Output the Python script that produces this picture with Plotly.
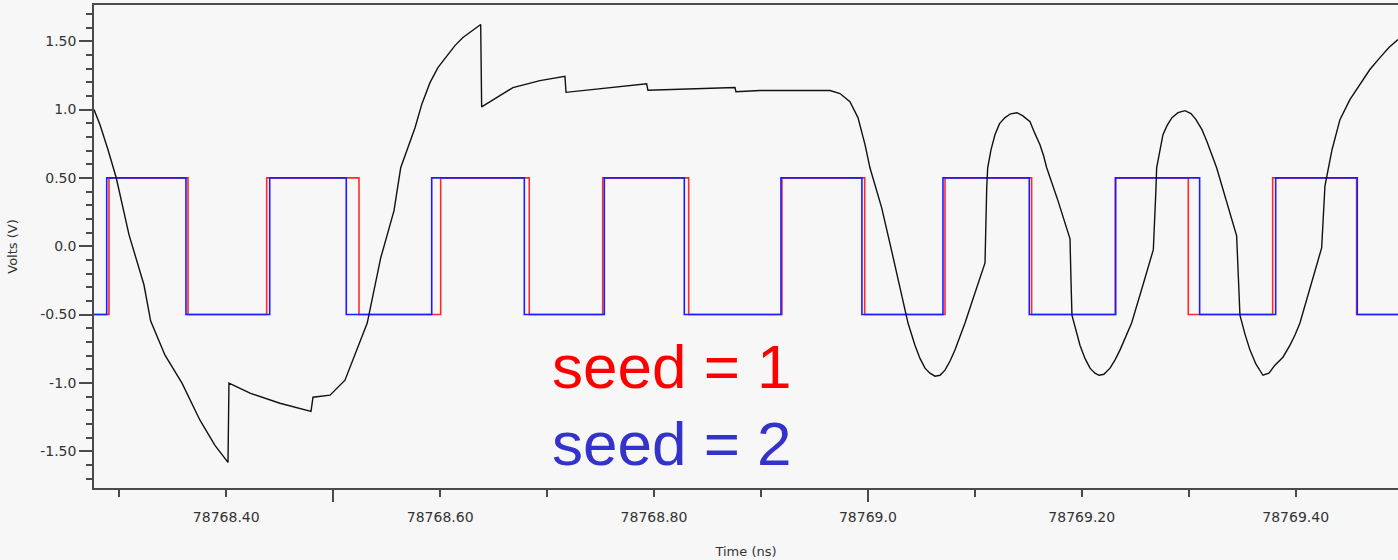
import plotly.graph_objects as go

# ---- square waves (transition times, ns); both start low (-0.5) ----
red_edges = [78768.2903, 78768.3642, 78768.4378, 78768.5241, 78768.6005, 78768.6833,
             78768.7520, 78768.8324, 78768.9196, 78768.9970, 78769.0721, 78769.1531,
             78769.2313, 78769.2996, 78769.3785, 78769.4570]
blue_edges = [78768.2882, 78768.3623, 78768.4406, 78768.5122, 78768.5921, 78768.6787,
              78768.7535, 78768.8283, 78768.9187, 78768.9944, 78769.0702, 78769.1509,
              78769.2317, 78769.3102, 78769.3813, 78769.4576]
low_level = -0.5
high_level = 0.5

# ---- analog waveform (black) ----
analog_t = [78768.2763, 78768.2819, 78768.2894, 78768.2971, 78768.3090, 78768.3230, 78768.3293,
            78768.3427, 78768.3586, 78768.3754, 78768.3894, 78768.4016, 78768.4025, 78768.4222,
            78768.4502, 78768.4792, 78768.4811, 78768.4970, 78768.5110, 78768.5204, 78768.5318,
            78768.5444, 78768.5568, 78768.5631, 78768.5699, 78768.5765, 78768.5830, 78768.5905,
            78768.5979, 78768.6061, 78768.6138, 78768.6213, 78768.6297, 78768.6379, 78768.6388,
            78768.6681, 78768.6933, 78768.7167, 78768.7177, 78768.7931, 78768.7943, 78768.8430,
            78768.8757, 78768.8766, 78768.8991, 78768.9365, 78768.9645, 78768.9739, 78768.9832,
            78768.9907, 78768.9973, 78769.0019, 78769.0129, 78769.0222, 78769.0375, 78769.0440,
            78769.0487, 78769.0534, 78769.0580, 78769.0627, 78769.0674, 78769.0721, 78769.0768,
            78769.0814, 78769.0861, 78769.0908, 78769.1001, 78769.1095, 78769.1111, 78769.1120,
            78769.1151, 78769.1188, 78769.1231, 78769.1282, 78769.1334, 78769.1394, 78769.1446,
            78769.1516, 78769.1558, 78769.1609, 78769.1643, 78769.1672, 78769.1778, 78769.1890,
            78769.1899, 78769.1908, 78769.1983, 78769.2030, 78769.2077, 78769.2123, 78769.2161,
            78769.2207, 78769.2264, 78769.2310, 78769.2357, 78769.2413, 78769.2466, 78769.2572,
            78769.2669, 78769.2694, 78769.2700, 78769.2759, 78769.2797, 78769.2843, 78769.2900,
            78769.2965, 78769.3021, 78769.3068, 78769.3124, 78769.3171, 78769.3217, 78769.3261,
            78769.3448, 78769.3479, 78769.3526, 78769.3573, 78769.3629, 78769.3694, 78769.3750,
            78769.3806, 78769.3881, 78769.3947, 78769.3994, 78769.4040, 78769.4243, 78769.4274,
            78769.4340, 78769.4414, 78769.4507, 78769.4601, 78769.4694, 78769.4788, 78769.4872,
            78769.4957]
analog_v = [1.000, 0.889, 0.706, 0.501, 0.085, -0.282, -0.548,
            -0.797, -1.002, -1.273, -1.457, -1.582, -1.002, -1.075,
            -1.149, -1.208, -1.105, -1.090, -0.980, -0.797, -0.562,
            -0.086, 0.259, 0.574, 0.721, 0.867, 1.043, 1.197,
            1.307, 1.390, 1.468, 1.527, 1.578, 1.622, 1.019,
            1.161, 1.212, 1.243, 1.126, 1.188, 1.141, 1.153,
            1.161, 1.131, 1.139, 1.139, 1.139, 1.117, 1.058,
            0.941, 0.743, 0.574, 0.281, -0.034, -0.562, -0.724,
            -0.821, -0.892, -0.929, -0.951, -0.944, -0.907, -0.840,
            -0.760, -0.665, -0.562, -0.342, -0.122, 0.427, 0.574,
            0.705, 0.816, 0.897, 0.941, 0.969, 0.977, 0.955,
            0.911, 0.831, 0.743, 0.662, 0.574, 0.332, 0.054,
            -0.247, -0.504, -0.724, -0.821, -0.892, -0.929, -0.944,
            -0.937, -0.892, -0.833, -0.760, -0.665, -0.562, -0.284,
            -0.025, 0.427, 0.574, 0.816, 0.882, 0.941, 0.977,
            0.992, 0.970, 0.926, 0.853, 0.765, 0.670, 0.574,
            0.076, -0.504, -0.643, -0.760, -0.863, -0.944, -0.929,
            -0.870, -0.812, -0.724, -0.650, -0.562, -0.012, 0.442,
            0.706, 0.926, 1.073, 1.183, 1.293, 1.380, 1.454,
            1.512]

x_range = [78768.2763, 78769.4957]
y_range = [-1.769, 1.765]
x_tickvals = [78768.4, 78768.6, 78768.8, 78769.0, 78769.2, 78769.4]
x_ticktext = ["78768.40", "78768.60", "78768.80", "78769.0", "78769.20", "78769.40"]
x_long_ticks = [78768.5, 78769.0]
y_tickvals = [-1.5, -1.0, -0.5, 0.0, 0.5, 1.0, 1.5]
y_ticktext = ["-1.50", "-1.0", "-0.50", "0.0", "0.50", "1.0", "1.50"]


def square(edges):
    xs = [x_range[0]]
    ys = [low_level]
    level = low_level
    for e in edges:
        xs += [e, e]
        ys += [level, high_level if level == low_level else low_level]
        level = ys[-1]
    xs.append(x_range[1])
    ys.append(level)
    return xs, ys


rx, ry = square(red_edges)
bx, by = square(blue_edges)

bg = "#f7f7f7"
axcol = "#4a4a4a"
tickfont = dict(family="DejaVu Sans", size=14, color="#333333")

fig = go.Figure()
fig.add_trace(go.Scatter(x=rx, y=ry, mode="lines", line=dict(color="#ff2a2a", width=1.6),
                         name="seed = 1", showlegend=False))
fig.add_trace(go.Scatter(x=bx, y=by, mode="lines", line=dict(color="#1c1cff", width=1.6),
                         name="seed = 2", showlegend=False, xaxis="x2"))
fig.add_trace(go.Scatter(x=analog_t, y=analog_v, mode="lines",
                         line=dict(color="#111111", width=1.4), showlegend=False, xaxis="x2"))

fig.update_layout(
    width=1398, height=560,
    margin=dict(l=94, r=0, t=5, b=72),
    paper_bgcolor=bg, plot_bgcolor=bg,
    xaxis=dict(range=x_range, tickmode="array", tickvals=x_tickvals, ticktext=x_ticktext,
               ticks="outside", ticklen=7, tickcolor=axcol, tickwidth=1.5,
               minor=dict(tickmode="linear", tick0=78768.4, dtick=0.1, ticks="outside",
                          ticklen=7, tickcolor=axcol, tickwidth=1.5, showgrid=False),
               showgrid=False, zeroline=False, showline=True, linecolor=axcol, linewidth=1.5,
               mirror=True, tickfont=tickfont, ticklabelstandoff=8,
               title=dict(text="Time (ns)", font=dict(family="DejaVu Sans", size=13, color="#333333"),
                          standoff=23)),
    xaxis2=dict(range=x_range, overlaying="x", anchor="y", side="bottom", matches="x",
                tickmode="array", tickvals=x_long_ticks, ticks="outside", ticklen=13,
                tickcolor=axcol, tickwidth=1.5, showticklabels=False, showgrid=False,
                zeroline=False, showline=False),
    yaxis=dict(range=y_range, tickmode="array", tickvals=y_tickvals, ticktext=y_ticktext,
               ticks="outside", ticklen=13, tickcolor=axcol, tickwidth=1.5,
               minor=dict(tickmode="linear", tick0=0, dtick=0.1, ticks="outside",
                          ticklen=6, tickcolor=axcol, tickwidth=1.5, showgrid=False),
               showgrid=False, zeroline=False, showline=True, linecolor=axcol, linewidth=1.5,
               tickfont=tickfont,
               title=dict(text="Volts (V)", font=dict(family="DejaVu Sans", size=13, color="#333333"),
                          standoff=20)),
    annotations=[
        dict(text="seed = 1", xref="paper", yref="paper", x=0.3497, y=0.2521,
             xanchor="left", yanchor="middle", showarrow=False,
             font=dict(family="Liberation Sans", size=62, color="#ff0000")),
        dict(text="seed = 2", xref="paper", yref="paper", x=0.3497, y=0.0926,
             xanchor="left", yanchor="middle", showarrow=False,
             font=dict(family="Liberation Sans", size=62, color="#3333cc")),
    ],
)

fig.write_html("out.html", config={"displayModeBar": False},
               post_script="document.body.style.margin='0';document.body.style.overflow='hidden';")
